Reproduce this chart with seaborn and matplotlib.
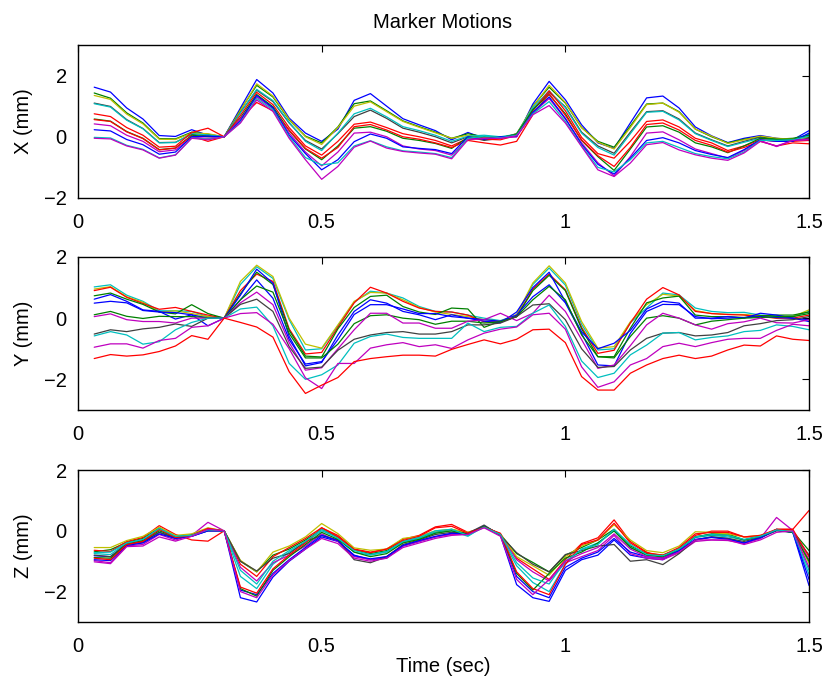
import numpy as np
import pandas as pd
import matplotlib
matplotlib.use('Agg')
import matplotlib.pyplot as plt
import seaborn as sns

sns.set_style("white")
plt.rcParams['font.family'] = ['Liberation Sans', 'DejaVu Sans']
plt.rcParams['text.color'] = 'black'
plt.rcParams['axes.labelcolor'] = 'black'
plt.rcParams['xtick.color'] = 'black'
plt.rcParams['ytick.color'] = 'black'

# frames at 30 Hz, 45 samples
time = np.round(np.arange(1, 46) / 30.0, 4)

# ---------------------------------------------------------------- X (mm)
x_blue1 = [1.62, 1.46, .94, .58, .04, .01, .23, .05, 0, .94, 1.87, 1.43, .61, .12, -.15, .25, 1.19, 1.41, 1.0, .59, .39, .2, -.1, .14, -.05, .0, .0, 1.07, 1.81, 1.21, .39, -.2, -.38, .45, 1.27, 1.33, .94, .32, .03, -.19, -.05, .04, -.05, -.1, .2]
x_green1 = [1.43, 1.26, .78, .45, -.06, -.07, .15, .08, 0, .88, 1.68, 1.3, .55, .02, -.2, .32, 1.08, 1.17, .85, .52, .33, .15, -.05, .1, .0, -.02, .05, 1.0, 1.62, 1.1, .3, -.15, -.34, .35, 1.07, 1.1, .82, .25, .0, -.2, -.08, .0, -.08, -.05, .05]
x_yellow = [1.35, 1.22, .74, .42, -.08, -.09, .12, .1, 0, .86, 1.73, 1.33, .57, .0, -.25, .3, 1.0, 1.14, .82, .5, .31, .13, -.05, .05, -.02, -.05, .1, .98, 1.68, 1.12, .3, -.18, -.4, .3, 1.05, 1.1, .8, .25, .02, -.22, -.1, .02, -.05, -.08, .0]
x_gray = [1.1, .99, .56, .27, -.19, -.18, .08, .03, 0, .8, 1.52, 1.15, .45, -.12, -.4, .1, .66, .87, .6, .28, .15, .0, -.2, .0, -.12, -.05, .1, .9, 1.45, .98, .15, -.3, -.54, .15, .82, .85, .58, .12, -.1, -.3, -.15, -.02, -.12, -.12, -.05]
x_cyan1 = [1.08, .97, .54, .26, -.2, -.19, .1, .06, 0, .78, 1.55, 1.18, .47, -.15, -.45, .12, .75, .93, .65, .33, .2, .05, -.15, .02, .05, .0, .08, .95, 1.5, .95, .12, -.35, -.6, .1, .8, .83, .55, .1, -.12, -.32, -.18, -.05, -.1, -.1, .08]
x_red1 = [.75, .66, .3, .05, -.34, -.31, .14, .28, 0, .7, 1.45, 1.05, .3, -.3, -.6, -.15, .41, .48, .3, .1, .0, -.12, -.3, -.05, -.08, -.1, .05, .85, 1.5, .85, -.02, -.55, -.7, -.15, .5, .55, .32, -.05, -.2, -.45, -.3, -.1, -.15, -.15, -.12]
x_green2 = [.58, .51, .17, -.05, -.42, -.37, .05, .0, 0, .62, 1.38, .98, .2, -.4, -.75, -.3, .28, .33, .18, -.05, -.12, -.22, -.38, -.02, .0, -.03, .08, .88, 1.38, .75, -.12, -.65, -1.1, -.4, .32, .36, .15, -.2, -.33, -.52, -.3, -.05, -.08, -.08, .05]
x_red2 = [.56, .5, .16, -.06, -.43, -.37, .02, -.15, 0, .6, 1.12, .85, .22, -.38, -.7, -.35, .33, .4, .22, .0, -.08, -.2, -.35, -.12, -.2, -.27, -.15, .72, 1.4, .7, -.1, -.62, -.97, -.35, .4, .45, .22, -.12, -.28, -.5, -.35, -.15, -.3, -.2, -.23]
x_magenta1 = [.42, .36, .05, -.15, -.49, -.43, -.02, -.05, 0, .58, 1.3, .92, .12, -.5, -.95, -.5, .12, .15, .0, -.3, -.4, -.45, -.6, -.08, -.05, -.05, .0, .78, 1.25, .58, -.2, -.85, -1.28, -.65, .12, .16, -.1, -.4, -.55, -.7, -.45, -.12, -.32, -.12, -.1]
x_blue2 = [.23, .19, -.09, -.26, -.57, -.5, .0, .02, 0, .52, 1.35, .95, .05, -.55, -1.08, -.75, -.16, .09, -.05, -.33, -.38, -.42, -.55, .0, -.08, .0, .02, .8, 1.3, .6, -.25, -.9, -1.22, -.7, -.12, -.03, -.2, -.45, -.58, -.68, -.42, -.1, -.15, -.15, .12]
x_cyan2 = [-.02, -.04, -.28, -.41, -.69, -.59, -.04, -.08, 0, .47, 1.25, .88, .0, -.68, -.92, -.85, -.3, -.13, -.33, -.46, -.5, -.55, -.68, -.05, .02, -.03, .05, .75, 1.15, .5, -.3, -1.0, -1.15, -.75, -.2, -.15, -.35, -.55, -.65, -.72, -.5, -.12, -.12, -.1, .02]
x_magenta2 = [-.05, -.07, -.3, -.43, -.7, -.6, -.05, -.1, 0, .45, 1.2, .83, -.05, -.75, -1.39, -.97, -.34, -.14, -.37, -.48, -.53, -.57, -.72, -.1, -.05, -.05, .03, .72, 1.02, .45, -.32, -1.08, -1.3, -.86, -.26, -.19, -.43, -.59, -.7, -.77, -.53, -.15, -.3, -.12, -.08]

# ---------------------------------------------------------------- Y (mm)
y_cyan1 = [1.02, 1.09, .75, .55, .24, .24, .22, .05, 0, 1.1, 1.68, 1.3, -.05, -1.04, -1.0, -.25, .52, .88, .82, .66, .38, .22, .2, .1, .0, -.08, .1, 1.1, 1.64, 1.08, -.2, -1.04, -1.0, -.15, .33, .82, .76, .33, .22, .18, .19, .1, .05, .05, .22]
y_yellow = [.95, 1.03, .7, .52, .2, .24, .15, .05, 0, 1.2, 1.73, 1.36, .0, -.85, -.98, -.22, .55, .84, .82, .6, .35, .2, .12, .05, -.05, -.1, .12, 1.15, 1.71, 1.15, -.11, -.98, -.93, -.12, .44, .78, .72, .25, .15, .12, .12, .08, .0, .05, .27]
y_red1 = [.9, 1.01, .68, .48, .29, .35, .22, .1, 0, .9, 1.44, 1.2, -.35, -1.17, -1.12, -.3, .5, 1.01, .82, .55, .33, .22, .2, .1, -.12, -.12, .05, .95, 1.44, .93, -.3, -1.15, -1.05, -.16, .62, 1.0, .76, .22, .15, .12, .1, .05, .0, .0, .1]
y_green1 = [.73, .82, .62, .45, .2, .14, .44, .15, 0, .8, 1.5, 1.1, -.4, -1.24, -1.27, -.35, .35, .71, .75, .38, .2, .12, .33, .3, -.3, -.1, .05, .9, 1.4, .9, -.35, -1.26, -1.26, -.33, .5, .66, .72, .1, .05, .05, .02, .08, .1, .1, .2]
y_blue1 = [.62, .77, .55, .27, .22, -.03, .11, -.25, 0, .75, 1.6, 1.14, -.6, -1.56, -1.45, -.55, .22, .6, .49, .22, .11, -.05, .11, .0, -.1, -.15, .2, 1.0, 1.5, .54, -.45, -1.0, -.82, -.4, .3, .55, .49, .0, .0, .05, .0, .16, .1, .0, -.11]
y_blue2 = [.49, .55, .5, .25, .2, .18, .11, .0, 0, .6, 1.25, .65, -.7, -1.5, -1.42, -.7, .12, .44, .44, .3, .15, .15, .05, .0, -.05, -.1, .1, .7, 1.09, .5, -.5, -1.53, -1.56, -.5, .22, .45, .44, .05, -.02, .0, .02, .05, .02, .0, -.05]
y_green2 = [.11, .22, .06, -.01, .06, .05, .05, .02, 0, .6, 1.05, .85, -.5, -1.3, -1.3, -.85, -.18, .08, .11, .0, -.05, -.2, -.1, -.1, -.16, -.12, .05, .6, 1.04, .6, -.55, -1.26, -1.3, -.6, .0, .08, .0, -.22, -.1, -.05, .0, .02, .05, .05, .15]
y_magenta1 = [.05, .14, -.05, -.11, -.11, -.16, .0, .0, 0, .5, .85, .44, -.8, -1.7, -1.62, -1.0, -.38, .16, .16, -.16, -.16, -.33, -.33, -.1, -.05, .16, -.08, .16, .75, .22, -.7, -1.64, -1.53, -.9, -.22, .16, .0, -.22, -.36, -.18, -.12, .0, -.15, -.16, -.05]
y_gray = [-.52, -.38, -.44, -.35, -.3, -.19, -.27, .0, 0, .45, .62, .22, -.93, -1.64, -1.6, -1.05, -.69, -.55, -.47, -.44, -.52, -.52, -.44, -.22, -.22, -.16, .05, .43, .47, -.05, -1.0, -1.61, -1.58, -1.04, -.66, -.49, -.47, -.58, -.55, -.47, -.25, -.18, -.08, -.05, .05]
y_cyan2 = [-.58, -.44, -.55, -.85, -.77, -.38, -.14, .0, 0, .3, .36, -.25, -1.48, -2.0, -1.85, -1.53, -.82, -.6, -.52, -.63, -.66, -.66, -.66, -.16, -.44, -.3, -.27, .16, .43, -.27, -1.4, -1.94, -1.8, -1.2, -.88, -.49, -.47, -.71, -.63, -.58, -.44, -.4, -.22, -.27, -.38]
y_magenta2 = [-.95, -.84, -.84, -.98, -.73, -.66, -.3, -.25, 0, .15, .18, -.2, -1.0, -1.95, -2.3, -1.48, -1.48, -.98, -.87, -.8, -.93, -.87, -.99, -.71, -.49, -.36, -.29, .11, .16, -.36, -1.59, -2.26, -2.08, -1.53, -1.32, -.93, -.82, -.93, -.8, -.69, -.66, -.66, -.4, -.2, -.25]
y_red2 = [-1.32, -1.19, -1.24, -1.2, -1.09, -.91, -.57, -.69, 0, -.14, -.29, -.62, -1.75, -2.46, -2.19, -1.94, -1.42, -1.32, -1.26, -1.21, -1.21, -1.24, -1.02, -.86, -.71, -.84, -.69, -.38, -.36, -.8, -1.91, -2.35, -2.35, -1.8, -1.53, -1.32, -1.21, -1.32, -1.24, -1.04, -.88, -.91, -.58, -.69, -.73]

# ---------------------------------------------------------------- Z (mm)
z_blue1 = [-.82, -.85, -.45, -.38, -.05, -.22, -.18, .0, 0, -2.2, -2.34, -1.52, -1.0, -.6, -.2, -.35, -.8, -.95, -.9, -.5, -.35, -.2, -.1, -.12, .15, -.15, -1.77, -2.2, -2.32, -1.3, -.95, -.8, -.3, -.8, -.9, -.95, -.65, -.3, -.2, -.25, -.4, -.25, .05, -.05, -1.8]
z_green1 = [-.69, -.62, -.38, -.25, .1, -.2, -.12, .05, 0, -1.0, -1.35, -.8, -.6, -.3, .05, -.2, -.62, -.75, -.65, -.35, -.22, -.05, .05, -.1, .15, -.12, -.75, -1.04, -1.35, -.8, -.55, -.3, .05, -.5, -.75, -.8, -.6, -.2, -.1, -.1, -.3, -.18, .02, -.02, -.65]
z_red1 = [-.64, -.68, -.35, -.22, .17, -.12, -.3, -.34, 0, -1.1, -1.5, -.85, -.55, -.25, .1, -.15, -.6, -.7, -.6, -.28, -.15, .13, .21, -.05, .12, -.1, -.9, -1.25, -1.6, -.95, -.42, -.23, .36, -.35, -.7, -.9, -.6, -.15, -.01, -.01, -.2, -.2, .05, .05, .67]
z_cyan1 = [-.75, -.78, -.4, -.3, .05, -.2, -.12, .02, 0, -1.5, -1.9, -1.1, -.7, -.38, .0, -.22, -.7, -.8, -.7, -.38, -.25, -.05, .0, -.18, .15, -.15, -1.15, -1.7, -2.0, -1.1, -.6, -.4, .0, -.55, -.8, -.85, -.62, -.22, -.15, -.2, -.3, -.2, .05, -.05, -1.44]
z_magenta1 = [-.98, -1.05, -.5, -.45, -.12, -.3, -.15, .28, 0, -1.2, -1.65, -1.05, -.8, -.5, -.1, -.35, -.85, -.95, -.85, -.5, -.35, -.2, -.12, -.1, .12, -.12, -.95, -1.35, -1.65, -1.05, -.85, -.65, -.15, -.75, -.9, -.95, -.72, -.35, -.3, -.32, -.42, -.25, .44, .01, -.95]
z_yellow = [-.55, -.55, -.32, -.18, .12, -.15, -.1, .1, 0, -.97, -1.35, -.7, -.5, -.2, .24, -.09, -.56, -.64, -.6, -.25, -.18, .0, .05, -.05, .12, -.1, -.85, -1.15, -1.46, -.85, -.5, -.3, .2, -.3, -.65, -.72, -.5, -.03, -.05, -.1, -.2, -.15, .02, .0, -1.07]
z_gray = [-.8, -.85, -.42, -.35, -.05, -.25, -.15, .0, 0, -1.0, -1.32, -.9, -.75, -.35, -.15, -.3, -.95, -1.05, -.85, -.45, -.3, -.12, -.05, -.08, .19, -.15, -.72, -1.1, -1.35, -.78, -.65, -.5, -.45, -1.0, -.95, -1.11, -.75, -.3, -.2, -.25, -.35, -.22, .0, -.05, -.8]
z_blue2 = [-.95, -.98, -.48, -.4, -.1, -.25, -.18, .0, 0, -1.95, -2.1, -1.4, -.95, -.55, -.15, -.32, -.82, -.92, -.85, -.48, -.32, -.18, -.08, -.1, .15, -.12, -1.5, -2.0, -2.2, -1.2, -.9, -.7, -.25, -.7, -.85, -.9, -.65, -.28, -.22, -.28, -.4, -.22, .02, -.05, -1.6]
z_green2 = [-.88, -.9, -.45, -.32, .0, -.2, -.15, .05, 0, -1.9, -2.15, -1.3, -.85, -.45, -.05, -.28, -.7, -.85, -.75, -.4, -.28, -.08, .0, -.12, .15, -.12, -1.4, -1.95, -1.4, -.9, -.7, -.4, .0, -.55, -.8, -.85, -.6, -.2, -.12, -.15, -.3, -.18, .03, -.05, -1.0]
z_red2 = [-.9, -.95, -.45, -.35, .05, -.22, -.15, .08, 0, -1.85, -2.05, -1.25, -.8, -.4, .1, -.2, -.62, -.72, -.6, -.32, -.18, .1, .15, -.08, .12, -.08, -1.35, -1.9, -2.1, -1.1, -.45, -.3, .25, -.4, -.72, -.8, -.55, -.1, -.05, -.05, -.2, -.15, .05, .05, -.85]
z_cyan2 = [-.72, -.7, -.4, -.28, .08, -.18, -.15, .03, 0, -1.3, -1.75, -1.0, -.65, -.35, .05, -.25, -.65, -.78, -.68, -.35, -.22, .0, .05, -.15, .12, -.12, -1.05, -1.55, -1.75, -1.0, -.62, -.45, .05, -.45, -.78, -.82, -.6, -.2, -.12, -.15, -.28, -.18, .03, -.03, -1.3]
z_magenta2 = [-1.02, -1.08, -.52, -.5, -.2, -.34, -.18, .05, 0, -2.0, -2.2, -1.45, -.98, -.6, -.25, -.42, -.9, -1.0, -.9, -.55, -.4, -.25, -.15, -.12, .1, -.18, -1.6, -2.1, -1.6, -1.0, -.75, -.55, -.1, -.6, -.85, -.9, -.7, -.3, -.3, -.3, -.45, -.3, -.05, .0, -1.2]

# MATLAB default line colours
B, G, R = (0, 0, 1), (0, 0.5, 0), (1, 0, 0)
C, M, Y, K = (0, 0.75, 0.75), (0.75, 0, 0.75), (0.75, 0.75, 0), (0.25, 0.25, 0.25)

panels = [
    ('X (mm)', (-2, 3),
     [x_blue1, x_green1, x_yellow, x_gray, x_cyan1, x_red1, x_green2, x_red2, x_magenta1, x_blue2, x_cyan2, x_magenta2],
     [B, G, Y, K, C, R, G, R, M, B, C, M]),
    ('Y (mm)', (-3, 2),
     [y_cyan1, y_yellow, y_red1, y_green1, y_blue1, y_blue2, y_green2, y_magenta1, y_gray, y_cyan2, y_magenta2, y_red2],
     [C, Y, R, G, B, B, G, M, K, C, M, R]),
    ('Z (mm)', (-3, 2),
     [z_blue1, z_green1, z_red1, z_cyan1, z_magenta1, z_yellow, z_gray, z_blue2, z_green2, z_red2, z_cyan2, z_magenta2],
     [B, G, R, C, M, Y, K, B, G, R, C, M]),
]

fig = plt.figure(figsize=(8.27, 6.81), dpi=100)
boxes = [[0.0943, 0.7093, 0.884, 0.2247],
         [0.0943, 0.3980, 0.884, 0.2247],
         [0.0943, 0.0866, 0.884, 0.2232]]

for (label, ylim, series, colors), box in zip(panels, boxes):
    ax = fig.add_axes(box)
    frames = []
    for i, vals in enumerate(series):
        assert len(vals) == len(time)
        frames.append(pd.DataFrame({'time': time, 'value': vals, 'marker': i}))
    df = pd.concat(frames, ignore_index=True)
    sns.lineplot(data=df, x='time', y='value', hue='marker', palette=colors,
                 legend=False, ax=ax, lw=0.9, estimator=None, sort=False)
    ax.set_xlim(0, 1.5)
    ax.set_ylim(*ylim)
    ax.set_xticks([0, 0.5, 1, 1.5])
    ax.set_xticklabels(['0', '0.5', '1', '1.5'])
    ax.set_yticks([-2, 0, 2])
    ax.tick_params(direction='in', top=True, right=True, length=5, width=0.8,
                   labelsize=14.5, colors='black')
    ax.tick_params(axis='x', pad=11)
    ax.tick_params(axis='y', pad=8)
    for sp in ax.spines.values():
        sp.set_color('black')
        sp.set_linewidth(1.0)
    ax.set_ylabel(label, fontsize=14.5)
    ax.yaxis.set_label_coords(-0.062, 0.5)
    ax.set_xlabel('')

# x label of the bottom panel, centred like the reference
fig.text(0.5357, 1 - 667 / 681, 'Time (sec)', ha='center', va='center', fontsize=14.5)
fig.text(0.5357, 1 - 22 / 681, 'Marker Motions', ha='center', va='center', fontsize=14.5)

plt.savefig('out.png', dpi=100)
plt.close()
